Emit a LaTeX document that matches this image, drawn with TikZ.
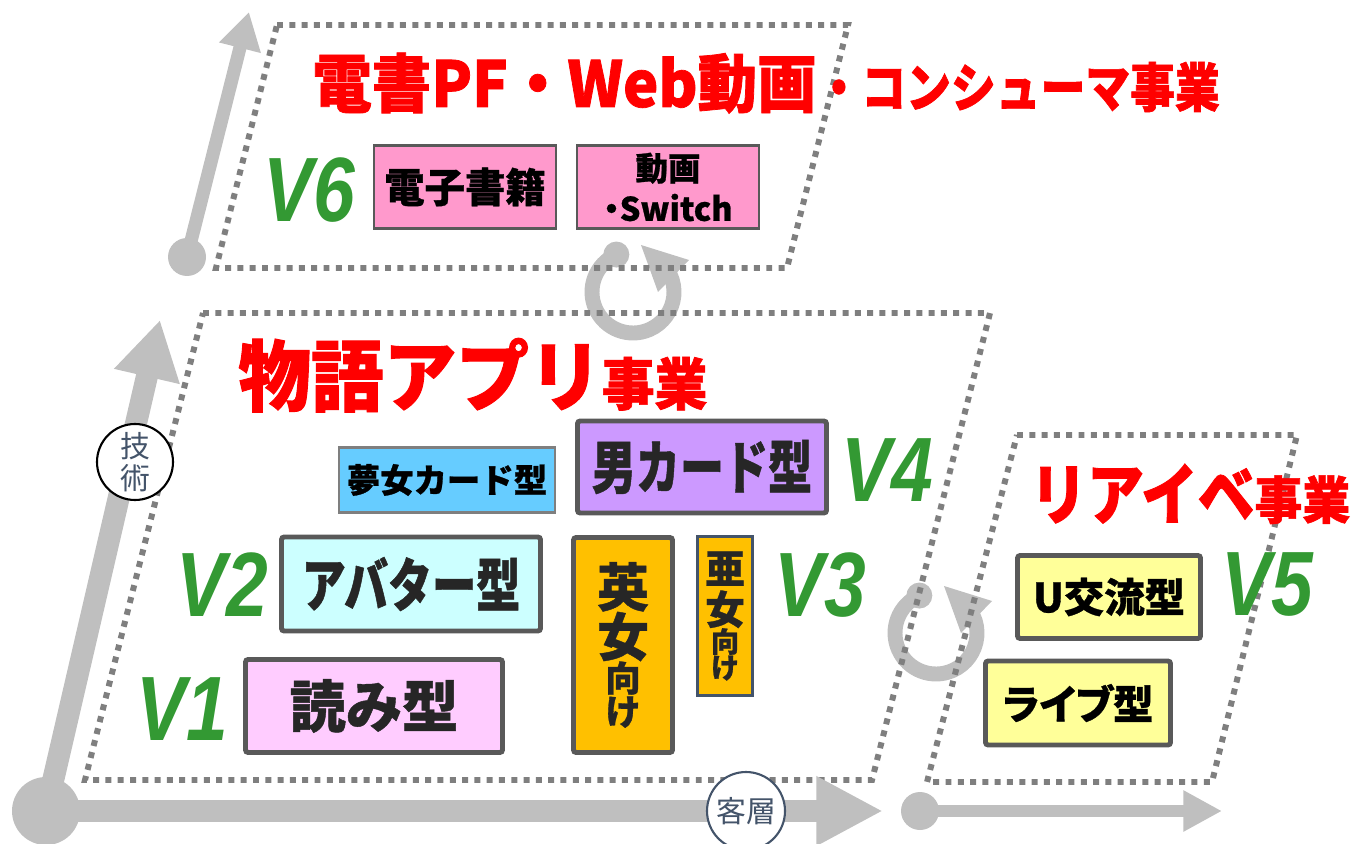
\documentclass[tikz,border=0pt]{standalone}
\usepackage{fontspec}
\usetikzlibrary{arrows.meta,calc}
\newfontfamily\jp[BoldFeatures={FakeBold=0.8}]{Noto Sans CJK JP}
\newfontfamily\jpp[RawFeature=+palt, BoldFeatures={FakeBold=0.8}]{Noto Sans CJK JP}
\newfontfamily\jpc[FakeStretch=0.76, BoldFeatures={FakeBold=0.8}]{Noto Sans CJK JP}
\newfontfamily\jpt[FakeStretch=0.94, BoldFeatures={FakeBold=1.2}]{Noto Sans CJK JP}
\newfontfamily\jptc[FakeStretch=0.85, BoldFeatures={FakeBold=1.2}]{Noto Sans CJK JP}
\newfontfamily\vfont[FakeStretch=0.82]{Liberation Sans}
\newlength\pxu
\setlength\pxu{0.02cm}
\definecolor{axisgray}{HTML}{BFBFBF}
\definecolor{dotgray}{HTML}{7F7F7F}
\definecolor{boxgray}{HTML}{595959}
\definecolor{titlered}{HTML}{FF0000}
\definecolor{vgreen}{HTML}{339933}
\definecolor{labelblue}{HTML}{44546A}
\definecolor{inktext}{HTML}{262626}
\definecolor{ebookpink}{HTML}{FF99CC}
\definecolor{yumeblue}{HTML}{66CCFF}
\definecolor{otokopurple}{HTML}{CC99FF}
\definecolor{avatarcyan}{HTML}{CCFFFF}
\definecolor{yomipink}{HTML}{FFCCFF}
\definecolor{joseiorange}{HTML}{FFC000}
\definecolor{eventyellow}{HTML}{FFFF99}
\tikzset{%
    biz_frame/.style={%
        draw=dotgray, line width=3.4pt, dash pattern=on 3.4pt off 3.6pt
    },
    biz_title/.style={%
        text=titlered, font=\jpt\bfseries, inner sep=0pt
    },
    v_label/.style={%
        text=vgreen, inner sep=0pt, font=\vfont\bfseries\itshape\fontsize{52}{52}\selectfont
    },
    type_box/.style={%
        draw=boxgray, line width=2.8pt, rounded corners=1.5pt, inner sep=0pt, text=inktext
    },
    thin_box/.style={%
        draw=boxgray, line width=1.3pt, inner sep=0pt, text=black
    },
    axis_line/.style={%
        draw=axisgray, fill=axisgray
    },
    axis_dot/.style={%
        circle, fill=axisgray, inner sep=0pt
    },
    axis_label/.style={%
        circle, fill=white, line width=1.2pt, text=labelblue, align=center, inner sep=0pt,
        font=\jp\fontsize{17}{18.5}\selectfont
    },
    cycle_line/.style={%
        draw=axisgray, line width=8.5pt
    },
}

\begin{document}
\begin{tikzpicture}[x=0.02cm, y=-0.02cm]
    \useasboundingbox (0,0) rectangle (1361,844);

    % cycle arrows between the businesses
    \foreach \cx/\cy in {633/292, 936/633} {
      \draw[cycle_line] (\cx,\cy) ++(246:41) arc[start angle=246, end angle=-25, radius=41];
      \fill[axisgray] (\cx,\cy) ++(246:41) circle[radius=13];
      \fill[axisgray] ($(\cx,\cy)+(8,-47)$) -- ($(\cx,\cy)+(56,-32)$) -- ($(\cx,\cy)+(25,0)$) -- cycle;
    }

    % business areas
    \draw[biz_frame] (277,25) -- (848,25) -- (787,268) -- (216,268) -- cycle;
    \draw[biz_frame] (203,313) -- (990,313) -- (872,780) -- (85,780) -- cycle;
    \draw[biz_frame] (1017,435) -- (1297,435) -- (1212,782) -- (927,782) -- cycle;

    % axes
    \node[axis_dot, minimum size=68\pxu] (origin) at (46,811) {};
    \coordinate (tech_tip) at (160,320);
    \coordinate (cust_tip) at (883,811);
    \draw[axis_line, line width=12.5pt, -{Triangle[length=33pt,width=36pt]}] (origin.center) -- (tech_tip);
    \draw[axis_line, line width=12.5pt, -{Triangle[length=38pt,width=37pt]}] (origin.center) -- (cust_tip);

    \node[axis_dot, minimum size=38\pxu] (ebook_dot) at (187,257) {};
    \coordinate (ebook_tip) at (249,12);
    \draw[axis_line, line width=7.5pt, -{Triangle[length=21pt,width=23pt]}] (ebook_dot.center) -- (ebook_tip);

    \node[axis_dot, minimum size=38\pxu] (event_dot) at (920,811) {};
    \coordinate (event_tip) at (1222,811);
    \draw[axis_line, line width=7pt, -{Triangle[length=22pt,width=22pt]}] (event_dot.center) -- (event_tip);

    \node[axis_label, draw=black, minimum size=76\pxu] (tech) at (135,462) {技\\術};
    \node[axis_label, draw=labelblue, minimum size=78\pxu] (cust) at (746,811) {客層};

    % titles
    \node[biz_title, anchor=base west] (title_ebook) at (312,107)
      {\fontsize{36}{36}\selectfont 電書PF・Web動画{\jptc\bfseries\fontsize{30}{30}\selectfont ・コンシューマ事業}};
    \node[biz_title, anchor=base west] (title_story) at (238,405)
      {\fontsize{44}{44}\selectfont 物語アプリ\fontsize{32}{32}\selectfont 事業};
    \node[biz_title, anchor=base west] (title_event) at (1030,519)
      {{\jptc\bfseries\fontsize{38}{38}\selectfont リアイベ}\fontsize{29}{29}\selectfont 事業};

    % versions
    \node[v_label] (v1) at (182,709) {V1};
    \node[v_label] (v2) at (222,585) {V2};
    \node[v_label] (v3) at (820,585) {V3};
    \node[v_label] (v4) at (887,470) {V4};
    \node[v_label] (v5) at (1267,585) {V5};
    \node[v_label] (v6) at (309,190) {V6};

    % e-book / video
    \node[thin_box, fill=ebookpink, minimum width=182\pxu, minimum height=83\pxu,
      font=\jp\bfseries\fontsize{23}{23}\selectfont] (ebook) at (465,187) {電子書籍};
    \node[thin_box, fill=ebookpink, minimum width=182\pxu, minimum height=83\pxu, align=center,
      font=\jpp\bfseries\fontsize{18.5}{23}\selectfont] (movie) at (668,187) {動画\\・Switch};

    % story apps
    \node[thin_box, draw=dotgray, fill=yumeblue, minimum width=216\pxu, minimum height=65\pxu,
      font=\jp\bfseries\fontsize{19}{19}\selectfont] (yume) at (447,480) {夢女カード型};
    \node[type_box, fill=otokopurple, minimum width=249\pxu, minimum height=92\pxu,
      font=\jpc\bfseries\fontsize{33}{33}\selectfont] (otoko) at (702,467) {男カード型};
    \node[type_box, fill=avatarcyan, minimum width=259\pxu, minimum height=94\pxu,
      font=\jpc\bfseries\fontsize{33}{33}\selectfont] (avatar) at (411,584) {アバター型};
    \node[type_box, fill=yomipink, minimum width=257\pxu, minimum height=93\pxu,
      font=\jp\bfseries\fontsize{32}{32}\selectfont] (yomi) at (374,706) {読み型};
    \node[type_box, fill=joseiorange, minimum width=99\pxu, minimum height=215\pxu,
      font=\jp\bfseries] (eijo) at (623,645)
      {\def\arraystretch{0}\begin{tabular}{@{}c@{}}
        \fontsize{29.5}{30}\selectfont 英\\[3pt]
        \fontsize{29.5}{30}\selectfont 女\\[3pt]
        \fontsize{20}{20}\selectfont 向\\[3pt]
        \fontsize{20}{20}\selectfont け
      \end{tabular}};
    \node[thin_box, draw=labelblue, fill=joseiorange, minimum width=55\pxu, minimum height=159\pxu,
      font=\jp\bfseries, text=inktext] (ajo) at (725,616)
      {\def\arraystretch{0}\begin{tabular}{@{}c@{}}
        \fontsize{22.5}{23}\selectfont 亜\\[4pt]
        \fontsize{22.5}{23}\selectfont 女\\[2pt]
        \fontsize{16}{16}\selectfont 向\\[2pt]
        \fontsize{16}{16}\selectfont け
      \end{tabular}};

    % live events
    \node[type_box, fill=eventyellow, minimum width=183\pxu, minimum height=83\pxu, text=black,
      font=\jp\bfseries\fontsize{23}{23}\selectfont] (kouryu) at (1109,597) {U交流型};
    \node[type_box, fill=eventyellow, minimum width=185\pxu, minimum height=84\pxu, text=black,
      font=\jpp\bfseries\fontsize{23}{23}\selectfont] (live) at (1078,703) {ライブ型};
\end{tikzpicture}
\end{document}
